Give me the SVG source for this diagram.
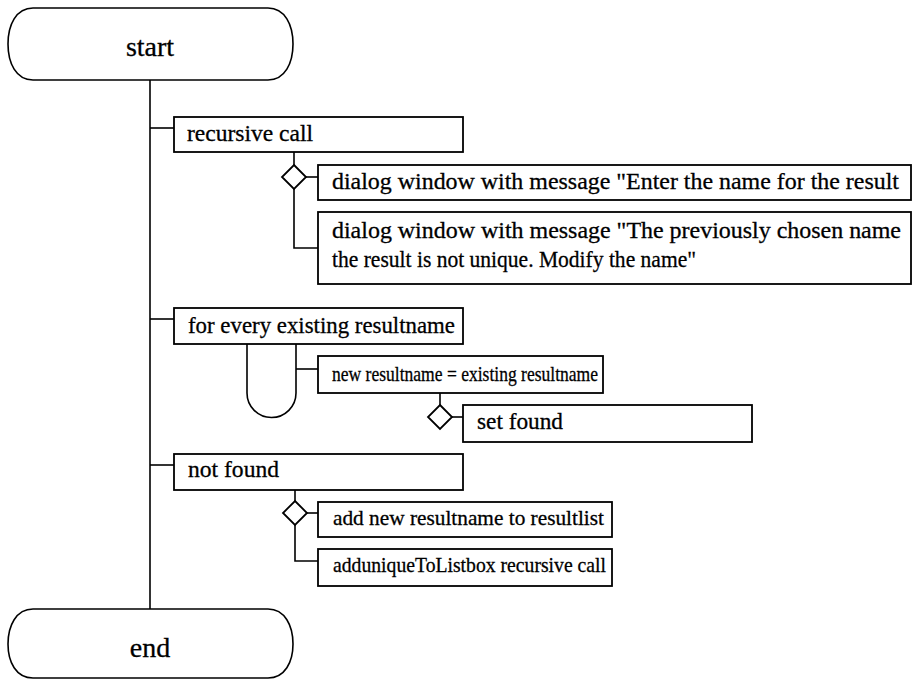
<svg xmlns="http://www.w3.org/2000/svg" width="913" height="681" viewBox="0 0 913 681">
  <style>
    .box { fill: #ffffff; stroke: #000000; stroke-width: 1.8; }
    .term { fill: #ffffff; stroke: #000000; stroke-width: 1.6; }
    .line { fill: none; stroke: #000000; stroke-width: 1.6; }
    .dia { fill: #ffffff; stroke: #000000; stroke-width: 1.8; }
    text { font-family: "Liberation Serif", "Times New Roman", serif; font-size: 24px; fill: #000000; stroke: #000000; stroke-width: 0.3; }
    .tt { font-size: 28px; text-anchor: middle; }
    .tight { font-size: 22px; }
  </style>

  <!-- connectors -->
  <g id="connectors">
    <!-- main spine -->
    <line class="line" x1="150" y1="80" x2="150" y2="609"/>
    <line class="line" x1="150" y1="128" x2="174" y2="128"/>
    <line class="line" x1="150" y1="319" x2="174" y2="319"/>
    <line class="line" x1="150" y1="465" x2="174" y2="465"/>
    <!-- recursive call branch -->
    <line class="line" x1="294" y1="152" x2="294" y2="165"/>
    <line class="line" x1="306" y1="177" x2="318" y2="177"/>
    <polyline class="line" points="294,189 294,248 318,248"/>
    <!-- loop -->
    <path class="line" d="M247,344 V393 A24.5,24.5 0 0 0 296,393 V344"/>
    <line class="line" x1="296" y1="369" x2="318" y2="369"/>
    <line class="line" x1="440" y1="393" x2="440" y2="405"/>
    <line class="line" x1="452" y1="417" x2="463" y2="417"/>
    <!-- not found branch -->
    <line class="line" x1="295" y1="490" x2="295" y2="501"/>
    <line class="line" x1="307" y1="513" x2="318" y2="513"/>
    <polyline class="line" points="295,525 295,561 318,561"/>
  </g>

  <g id="start">
    <path class="term" d="M33,8 H268 C285,8 293,25 293,44 C293,63 285,80 268,80 H33 C16,80 8,63 8,44 C8,25 16,8 33,8 Z"/>
    <text class="tt" x="150" y="56">start</text>
  </g>

  <g id="recursive-call">
    <rect class="box" x="174" y="117" width="289" height="35"/>
    <text x="187" y="141" textLength="126" lengthAdjust="spacingAndGlyphs">recursive call</text>
  </g>

  <g id="choice-1">
    <polygon class="dia" points="294,165 306,177 294,189 282,177"/>
  </g>

  <g id="dialog-enter">
    <rect class="box" x="318" y="165" width="593" height="35"/>
    <text x="332" y="189" textLength="567" lengthAdjust="spacingAndGlyphs">dialog window with message "Enter the name for the result</text>
  </g>

  <g id="dialog-not-unique">
    <rect class="box" x="318" y="212" width="593" height="72"/>
    <text x="332" y="238" textLength="569" lengthAdjust="spacingAndGlyphs">dialog window with message "The previously chosen name</text>
    <text x="332" y="267" textLength="364" lengthAdjust="spacingAndGlyphs">the result is not unique. Modify the name"</text>
  </g>

  <g id="for-every">
    <rect class="box" x="174" y="308" width="289" height="36"/>
    <text x="188" y="333" textLength="267" lengthAdjust="spacingAndGlyphs">for every existing resultname</text>
  </g>

  <g id="compare">
    <rect class="box" x="318" y="356" width="285" height="37"/>
    <text class="tight" x="332" y="381" textLength="266" lengthAdjust="spacingAndGlyphs">new resultname = existing resultname</text>
  </g>

  <g id="choice-2">
    <polygon class="dia" points="440,405 452,417 440,429 428,417"/>
  </g>

  <g id="set-found">
    <rect class="box" x="463" y="405" width="289" height="37"/>
    <text x="477" y="429" textLength="86" lengthAdjust="spacingAndGlyphs">set found</text>
  </g>

  <g id="not-found">
    <rect class="box" x="174" y="454" width="289" height="36"/>
    <text x="188" y="477" textLength="91" lengthAdjust="spacingAndGlyphs">not found</text>
  </g>

  <g id="choice-3">
    <polygon class="dia" points="295,501 307,513 295,525 283,513"/>
  </g>

  <g id="add-to-list">
    <rect class="box" x="318" y="502" width="294" height="35"/>
    <text class="tight" x="333" y="525" textLength="271" lengthAdjust="spacingAndGlyphs">add new resultname to resultlist</text>
  </g>

  <g id="add-unique">
    <rect class="box" x="318" y="549" width="294" height="37"/>
    <text class="tight" x="333" y="572" textLength="273" lengthAdjust="spacingAndGlyphs">adduniqueToListbox recursive call</text>
  </g>

  <g id="end">
    <path class="term" d="M33,609 H268 C285,609 293,626 293,644 C293,662 285,678 268,678 H33 C16,678 8,662 8,644 C8,626 16,609 33,609 Z"/>
    <text class="tt" x="150" y="657">end</text>
  </g>
</svg>
